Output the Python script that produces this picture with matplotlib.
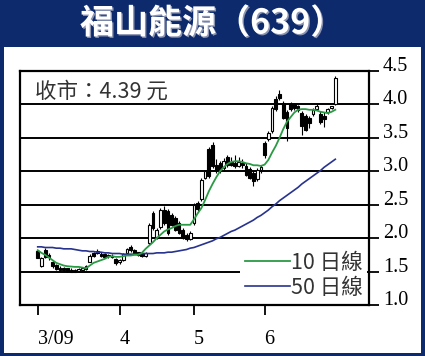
import matplotlib
matplotlib.use("Agg")
import matplotlib.pyplot as plt
import matplotlib.patheffects as pe
from matplotlib.patches import Rectangle

# ---- data (daily, 2 Mar 2009 .. 26 Jun 2009) ----
month_labels = ["3/09", "4", "5", "6"]
month_start = [0, 22, 42, 61]

opens = [1.81, 1.58, 1.83, 1.75, 1.65, 1.60, 1.56, 1.55, 1.55, 1.53,
         1.52, 1.51, 1.53, 1.54, 1.65, 1.78, 1.81, 1.77, 1.76, 1.75,
         1.74, 1.69, 1.64, 1.68, 1.78, 1.87, 1.82, 1.79, 1.76, 1.74,
         1.93, 2.38, 2.02, 2.16, 2.42, 2.40, 2.35, 2.30, 2.22, 2.12,
         2.05, 1.98, 2.22, 2.52, 2.58, 2.90, 3.33, 3.40, 3.10, 3.12,
         3.05, 3.22, 3.14, 3.12, 3.08, 3.13, 3.08, 3.03, 2.98, 2.88,
         3.02, 3.42, 3.49, 3.60, 4.08, 4.15, 4.02, 3.88, 4.01, 4.00,
         3.97, 3.87, 3.82, 3.80, 3.85, 3.93, 3.86, 3.82, 3.88, 3.95,
         4.00]
highs = [1.83, 1.72, 1.85, 1.78, 1.66, 1.62, 1.58, 1.57, 1.56, 1.55,
         1.54, 1.55, 1.57, 1.60, 1.76, 1.80, 1.84, 1.79, 1.78, 1.77,
         1.76, 1.71, 1.69, 1.78, 1.86, 1.90, 1.84, 1.80, 1.78, 1.80,
         2.23, 2.40, 2.15, 2.45, 2.48, 2.43, 2.38, 2.33, 2.25, 2.15,
         2.08, 2.10, 2.52, 2.56, 2.90, 3.02, 3.37, 3.44, 3.18, 3.16,
         3.20, 3.25, 3.22, 3.25, 3.22, 3.18, 3.12, 3.06, 3.00, 3.05,
         3.10, 3.46, 3.60, 3.98, 4.12, 4.22, 4.05, 3.92, 4.03, 4.02,
         3.99, 3.90, 3.85, 3.83, 3.94, 4.02, 3.90, 3.88, 3.95, 3.98,
         4.42]
lows = [1.70, 1.57, 1.70, 1.68, 1.55, 1.52, 1.51, 1.51, 1.50, 1.49,
        1.49, 1.50, 1.52, 1.53, 1.64, 1.72, 1.76, 1.72, 1.71, 1.71,
        1.70, 1.60, 1.61, 1.66, 1.76, 1.80, 1.76, 1.73, 1.72, 1.72,
        1.90, 2.12, 1.98, 2.14, 2.20, 2.05, 2.18, 2.10, 2.06, 1.98,
        1.96, 1.97, 2.20, 2.40, 2.55, 2.88, 2.90, 3.05, 2.98, 2.98,
        3.00, 3.06, 3.08, 3.05, 3.06, 3.05, 2.93, 2.88, 2.78, 2.86,
        2.97, 3.20, 3.45, 3.58, 3.90, 4.06, 3.78, 3.45, 3.90, 3.92,
        3.88, 3.55, 3.60, 3.65, 3.83, 3.91, 3.70, 3.66, 3.86, 3.93,
        3.99]
closes = [1.71, 1.70, 1.72, 1.72, 1.58, 1.54, 1.53, 1.52, 1.51, 1.50,
          1.50, 1.54, 1.56, 1.58, 1.73, 1.74, 1.78, 1.74, 1.72, 1.73,
          1.72, 1.63, 1.67, 1.76, 1.84, 1.82, 1.77, 1.75, 1.74, 1.78,
          2.20, 2.15, 2.12, 2.42, 2.23, 2.08, 2.20, 2.12, 2.08, 2.00,
          1.98, 2.08, 2.50, 2.43, 2.87, 3.00, 2.93, 3.08, 3.02, 3.02,
          3.16, 3.09, 3.10, 3.08, 3.14, 3.10, 2.95, 2.90, 2.85, 3.02,
          3.07, 3.24, 3.58, 3.95, 3.93, 4.09, 3.80, 3.65, 3.93, 3.94,
          3.92, 3.67, 3.62, 3.72, 3.92, 3.98, 3.73, 3.78, 3.93, 3.97,
          4.39]

ma10 = [1.82, 1.78, 1.75, 1.71, 1.67, 1.63, 1.61, 1.59, 1.58, 1.575,
        1.57, 1.57, 1.56, 1.55, 1.59, 1.63, 1.65, 1.67, 1.69, 1.72,
        1.73, 1.72, 1.72, 1.73, 1.74, 1.74, 1.75, 1.75, 1.78, 1.84,
        1.89, 1.94, 2.00, 2.05, 2.10, 2.13, 2.15, 2.18, 2.20, 2.20,
        2.20, 2.20, 2.28, 2.37, 2.45, 2.57, 2.70, 2.81, 2.91, 3.00,
        3.06, 3.11, 3.14, 3.15, 3.15, 3.14, 3.12, 3.11, 3.09, 3.09,
        3.08, 3.10, 3.17, 3.28, 3.38, 3.50, 3.63, 3.74, 3.81, 3.88,
        3.92, 3.93, 3.93, 3.92, 3.92, 3.91, 3.89, 3.88, 3.87, 3.89,
        3.92]
ma50 = [1.87, 1.87, 1.86, 1.86, 1.86, 1.85, 1.85, 1.84, 1.84, 1.84,
        1.83, 1.82, 1.81, 1.81, 1.80, 1.80, 1.79, 1.79, 1.78, 1.78,
        1.77, 1.77, 1.77, 1.76, 1.76, 1.76, 1.76, 1.76, 1.77, 1.77,
        1.77, 1.77, 1.78, 1.78, 1.78, 1.79, 1.79, 1.80, 1.81, 1.82,
        1.83, 1.85, 1.86, 1.88, 1.90, 1.92, 1.94, 1.96, 1.99, 2.01,
        2.04, 2.07, 2.10, 2.12, 2.15, 2.18, 2.21, 2.24, 2.27, 2.31,
        2.34, 2.38, 2.42, 2.47, 2.51, 2.56, 2.60, 2.64, 2.68, 2.72,
        2.76, 2.81, 2.85, 2.89, 2.93, 2.97, 3.01, 3.06, 3.10, 3.14,
        3.18]

price_ticks = [1.0, 1.5, 2.0, 2.5, 3.0, 3.5, 4.0, 4.5]
last_close = 4.39

NAVY = "#0d2a6c"
CJK = ["Noto Sans CJK TC", "DejaVu Sans"]

W, H = 425, 356
fig = plt.figure(figsize=(W / 100, H / 100), dpi=100)
fig.patch.set_facecolor(NAVY)
# white panel inside the navy frame
fig.patches.append(Rectangle((4 / W, 3 / H), 417 / W, (H - 47 - 3) / H,
                             transform=fig.transFigure, facecolor="white",
                             edgecolor="none", zorder=-1))

fig.text(212 / W, 1 - 23 / H, "福山能源（639）", color="white", fontsize=24.5,
         fontweight="bold", family=CJK, ha="center", va="center",
         path_effects=[pe.withSimplePatchShadow(offset=(1, -1), shadow_rgbFace="#8a93b0", alpha=1)])

ax = fig.add_axes([20 / W, 1 - 305 / H, 349 / W, 234 / H])
ax.set_zorder(2)
ax.set_facecolor("none")

x = list(range(len(closes)))
up = [c >= o for o, c in zip(opens, closes)]
body_lo = [min(o, c) for o, c in zip(opens, closes)]
body_h = [max(abs(c - o), 0.012) for o, c in zip(opens, closes)]

ax.vlines(x, lows, highs, color="black", linewidth=0.8, zorder=2)
ax.bar(x, body_h, bottom=body_lo, width=0.75,
       color=["white" if u else "black" for u in up],
       edgecolor="black", linewidth=0.8, zorder=3)

ax.plot(x, ma50, color="#27338f", linewidth=1.2, zorder=4, label="50 日線")
ax.plot(x, ma10, color="#2a9a44", linewidth=1.3, zorder=4, label="10 日線")

ax.set_xlim(-4.76, 89.06)
ax.set_ylim(1.0, 4.5)

ax.set_yticks(price_ticks)
ax.set_yticklabels([f"{v:.1f}" for v in price_ticks])
ax.yaxis.tick_right()
ax.set_xticks(month_start)
ax.set_xticklabels(month_labels, ha="left")
ax.tick_params(axis="y", direction="out", length=7, width=1.3, pad=3,
               labelsize=14.5, labelfontfamily="Liberation Serif")
ax.tick_params(axis="x", direction="out", length=7, width=1.3, pad=11,
               labelsize=14.5, labelfontfamily="Liberation Serif")
for lbl in ax.get_yticklabels():
    lbl.set_verticalalignment("baseline")
for s in ax.spines.values():
    s.set_linewidth(1.6)
ax.set_axisbelow(True)
ax.yaxis.grid(True, color="black", linewidth=1.4)

ax.text(0.043, 0.96, f"收市：{last_close:.2f} 元", transform=ax.transAxes,
        fontsize=15.5, family=CJK, color="#333333", ha="left", va="top")

h, l = ax.get_legend_handles_labels()
leg = ax.legend(h[::-1], l[::-1], loc="lower right", bbox_to_anchor=(1.0, 0.0),
                frameon=True, facecolor="white", edgecolor="none", framealpha=1,
                fancybox=False, borderaxespad=0.1, borderpad=0.2,
                handlelength=2.1, handletextpad=0.05, labelspacing=0.12,
                prop={"family": CJK, "size": 15.5})
for t in leg.get_texts():
    t.set_color("#333333")

fig.savefig("out.png", dpi=100, facecolor=NAVY)
